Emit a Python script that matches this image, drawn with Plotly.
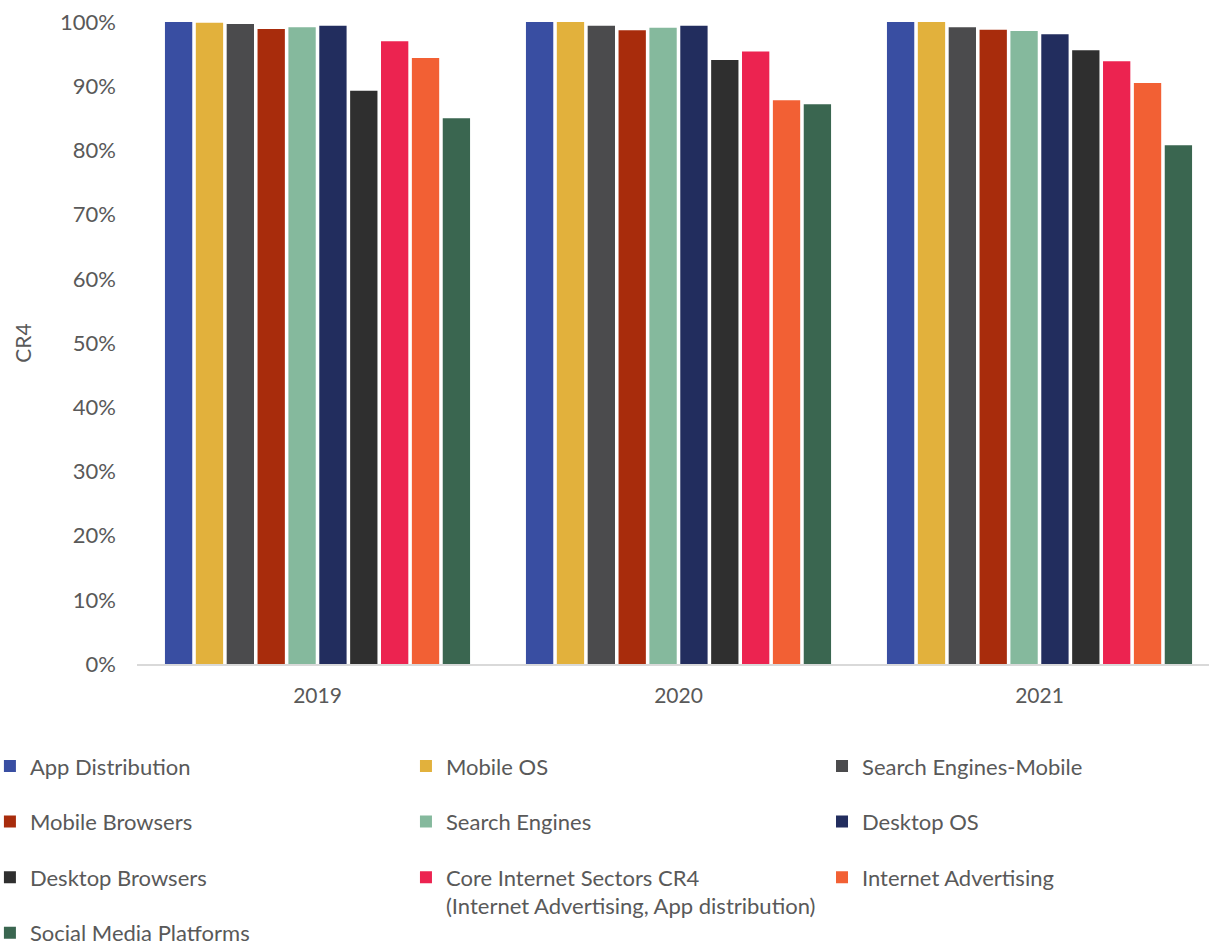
import plotly.graph_objects as go

# Concentration ratio (CR4) by market segment and year
years = ["2019", "2020", "2021"]
year_pos = [0, 1, 2]

segments = [
    "App Distribution",
    "Mobile OS",
    "Search Engines-Mobile",
    "Mobile Browsers",
    "Search Engines",
    "Desktop OS",
    "Desktop Browsers",
    "Core Internet Sectors CR4<br>(Internet Advertising, App distribution)",
    "Internet Advertising",
    "Social Media Platforms",
]

app_distribution = [1.000, 1.000, 1.000]
mobile_os = [0.999, 1.000, 1.000]
search_engines_mobile = [0.997, 0.994, 0.992]
mobile_browsers = [0.989, 0.987, 0.988]
search_engines = [0.992, 0.991, 0.986]
desktop_os = [0.994, 0.994, 0.981]
desktop_browsers = [0.893, 0.941, 0.956]
core_internet = [0.970, 0.954, 0.939]
internet_advertising = [0.944, 0.878, 0.905]
social_media = [0.850, 0.872, 0.808]

series = [
    app_distribution, mobile_os, search_engines_mobile, mobile_browsers,
    search_engines, desktop_os, desktop_browsers, core_internet,
    internet_advertising, social_media,
]

colors = [
    "#394EA2", "#E2B13C", "#4B4B4D", "#A82C0C", "#85B99D",
    "#222D5E", "#2F2F2F", "#EC2350", "#F26034", "#3A6650",
]

y_ticks = [i / 10 for i in range(11)]
y_tick_text = [f"{i * 10}%" for i in range(11)]

TEXT = "#595959"
FONT = "Lato"

fig = go.Figure()
legend_ids = ["legend", "legend2", "legend3"]
for i, (name, vals, col) in enumerate(zip(segments, series, colors)):
    fig.add_trace(go.Bar(
        x=year_pos, y=vals, name=name,
        marker=dict(color=col, line=dict(width=0)),
        legend=legend_ids[i % 3],
        legendgroup=f"g{i}",
        hovertemplate="%{y:.1%}<extra>" + name.replace("<br>", " ") + "</extra>",
    ))

legend_style = dict(
    orientation="v", yanchor="top", xanchor="left", y=-0.1265,
    tracegroupgap=24, valign="top",
    font=dict(family=FONT, size=22, color=TEXT),
    bgcolor="rgba(0,0,0,0)",
)

fig.update_layout(
    width=1209, height=942,
    margin=dict(l=137, r=0, t=22, b=278, autoexpand=False),
    paper_bgcolor="white", plot_bgcolor="white",
    barmode="group", bargap=0.145, bargroupgap=0.115,
    font=dict(family=FONT, size=20, color=TEXT),
    xaxis=dict(
        range=[-0.5, 2.4695], tickvals=year_pos, ticktext=years,
        showgrid=False, zeroline=False, showline=True,
        linecolor="#D9D9D9", linewidth=1.5, ticks="",
        ticklabelstandoff=12,
        tickfont=dict(family=FONT, size=21, color=TEXT),
    ),
    yaxis=dict(
        range=[0, 1.0], tickvals=y_ticks, ticktext=y_tick_text,
        showgrid=False, zeroline=False, showline=False, ticks="",
        ticklabelstandoff=20,
        tickfont=dict(family=FONT, size=22, color=TEXT),
        title=dict(text="CR4", standoff=22,
                   font=dict(family=FONT, size=21, color=TEXT)),
    ),
    legend=dict(x=-0.1372, **legend_style),
    legend2=dict(x=0.2509, **legend_style),
    legend3=dict(x=0.6390, **legend_style),
)

fig.write_html("out.html")
